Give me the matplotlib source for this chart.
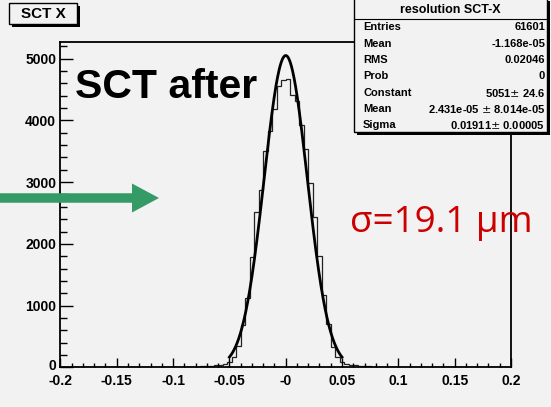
import numpy as np
import matplotlib
matplotlib.use('Agg')
import matplotlib.pyplot as plt
from matplotlib.patches import Rectangle, FancyArrow
from matplotlib.ticker import MultipleLocator, FixedLocator, FixedFormatter, FuncFormatter

plt.rcParams['font.family'] = ['Liberation Sans', 'DejaVu Sans']

# 直方图: 100 个 bin, 范围 [-0.2, 0.2]
bin_edges = np.linspace(-0.2, 0.2, 101)
counts = ([0] * 20 +
          [1, 1, 1, 2, 2, 3, 4, 5, 7, 9,
           12, 16, 21, 27, 34, 45, 60, 86, 167, 341,
           682, 1115, 1781, 2511, 2873, 3506, 3830, 4190, 4550, 4650,
           4670, 4415, 4307, 3929, 3539, 2982, 2440, 1802, 1169, 698,
           330, 167, 86, 58, 44, 33, 26, 20, 15, 11,
           8, 6, 5, 4, 3, 2, 2, 1, 1, 1] +
          [0] * 20)

# 高斯拟合参数 (来自统计框)
fit_const = 5051
fit_mean = 2.431e-05
fit_sigma = 0.01911
fit_range = (-0.05, 0.05)

stat_labels = ['Entries', 'Mean', 'RMS', 'Prob', 'Constant', 'Mean', 'Sigma']
stat_values = ['61601', '-1.168e-05', '0.02046', '0',
               '5051$\\pm$ 24.6', '2.431e-05 $\\pm$ 8.014e-05', '0.01911$\\pm$ 0.00005']

xtick_vals = [-0.2, -0.15, -0.1, -0.05, 0, 0.05, 0.1, 0.15, 0.2]
xtick_labels = ['-0.2', '-0.15', '-0.1', '-0.05', '-0', '0.05', '0.1', '0.15', '0.2']

bg = '#F2F2F2'
W, H = 551, 407
fig = plt.figure(figsize=(W / 100, H / 100), dpi=100, facecolor=bg)

ax = fig.add_axes([60.4 / W, 1 - 367.3 / H, (511 - 60.4) / W, (367.3 - 42) / H])
ax.set_facecolor(bg)
ax.stairs(counts, bin_edges, color='#222222', linewidth=0.9)

xf = np.linspace(fit_range[0], fit_range[1], 300)
yf = fit_const * np.exp(-0.5 * ((xf - fit_mean) / fit_sigma) ** 2)
ax.plot(xf, yf, color='black', linewidth=2)

ax.set_xlim(-0.2, 0.2)
ax.set_ylim(0, 5270)
ax.xaxis.set_major_locator(FixedLocator(xtick_vals))
ax.xaxis.set_major_formatter(FixedFormatter(xtick_labels))
ax.xaxis.set_minor_locator(MultipleLocator(0.01))
ax.yaxis.set_major_locator(MultipleLocator(1000))
ax.yaxis.set_minor_locator(MultipleLocator(200))
# "0" 单独画在稍高的位置 (ROOT 风格), 这里留空
ax.yaxis.set_major_formatter(FuncFormatter(lambda v, p: '' if v == 0 else f'{v:.0f}'))
ax.tick_params(axis='both', which='both', direction='in', width=1, colors='black')
ax.tick_params(axis='y', which='major', length=9.4, pad=3)
ax.tick_params(axis='y', which='minor', length=5)
ax.tick_params(axis='x', which='major', length=6.5, pad=4.5)
ax.tick_params(axis='x', which='minor', length=3.2)
for lab in ax.get_xticklabels() + ax.get_yticklabels():
    lab.set_fontweight('bold')
    lab.set_fontsize(10)
for sp in ax.spines.values():
    sp.set_linewidth(1.3)

# 叠加层: 像素坐标
ov = fig.add_axes([0, 0, 1, 1])
ov.set_xlim(0, W)
ov.set_ylim(H, 0)
ov.axis('off')
ov.patch.set_visible(False)

ov.text(56, 370, '0', ha='right', va='baseline', fontsize=10, fontweight='bold')

# 标题框 "SCT X"
ov.add_patch(Rectangle((12, 6), 68, 21, facecolor='black', edgecolor='none'))
ov.add_patch(Rectangle((9, 3), 68, 21, facecolor=bg, edgecolor='black', linewidth=1))
ov.text(43, 14, 'SCT X', ha='center', va='center', fontsize=11, fontweight='bold')

# 统计框
bx0, by0, bw, bh = 354, -2, 193, 134
ov.add_patch(Rectangle((bx0 + 3, by0 + 3), bw, bh, facecolor='black', edgecolor='none'))
ov.add_patch(Rectangle((bx0, by0), bw, bh, facecolor=bg, edgecolor='black', linewidth=1))
ov.plot([bx0, bx0 + bw], [19, 19], color='black', linewidth=0.8)
ov.text(bx0 + bw / 2, 10, 'resolution SCT-X', ha='center', va='center',
        fontsize=9, fontweight='bold')
for i, (lab, val) in enumerate(zip(stat_labels, stat_values)):
    yy = 27.5 + i * 16.3
    ov.text(363, yy, lab, ha='left', va='center', fontsize=8, fontweight='bold')
    ov.text(545, yy, val, ha='right', va='center', fontsize=8, fontweight='bold')

# 大字标注
ov.text(75, 98, 'SCT after', ha='left', va='baseline', fontsize=29.5, fontweight='bold')
ov.text(350, 231.7, 'σ=19.1 μm', ha='left', va='baseline', fontsize=26.5,
        color='#CC0000', family=['Open Sans', 'DejaVu Sans'])

# 绿色箭头
ov.add_patch(FancyArrow(0, 198, 159, 0, width=9.5, head_width=29, head_length=27,
                        length_includes_head=True, facecolor='#349A66',
                        edgecolor='none'))

fig.savefig('out.png', dpi=100, facecolor=bg)
